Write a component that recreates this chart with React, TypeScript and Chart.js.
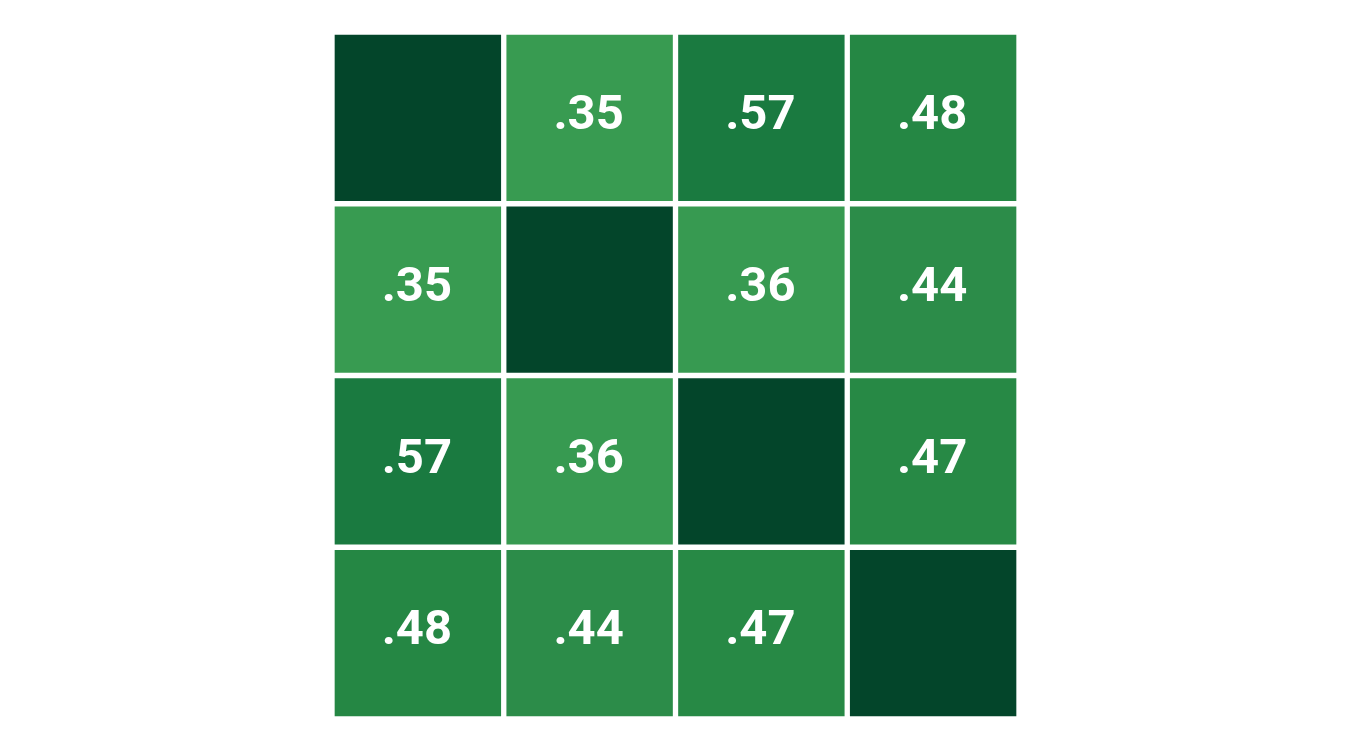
import React, { useEffect, useRef } from "react";
import { Chart, registerables } from "chart.js";

Chart.register(...registerables);

const columns = ["A", "B", "C", "D"];
const rows = ["A", "B", "C", "D"];
const values: number[][] = [
  [1.0, 0.35, 0.57, 0.48],
  [0.35, 1.0, 0.36, 0.44],
  [0.57, 0.36, 1.0, 0.47],
  [0.48, 0.44, 0.47, 1.0],
];
const palette: [number, string][] = [
  [1.0, "#03452a"],
  [0.57, "#1a7a40"],
  [0.48, "#258744"],
  [0.47, "#278945"],
  [0.44, "#2c8c49"],
  [0.36, "#379a51"],
  [0.35, "#389b51"],
];

function colorFor(v: number): string {
  let best = palette[0];
  for (const p of palette) if (Math.abs(p[0] - v) < Math.abs(best[0] - v)) best = p;
  return best[1];
}

function fmt(v: number): string {
  return v.toFixed(2).replace(/^0/, "");
}

const labelPlugin = {
  id: "cellLabels",
  afterDatasetsDraw(chart: any) {
    const ctx = chart.ctx;
    const xs = chart.scales.x;
    const ys = chart.scales.y;
    ctx.save();
    ctx.fillStyle = "#ffffff";
    ctx.font = "bold 49px Roboto";
    ctx.textAlign = "center";
    ctx.textBaseline = "middle";
    values.forEach((row, r) => {
      row.forEach((v, c) => {
        if (r === c) return;
        const x = xs.getPixelForValue(c) - 1;
        const y = ys.getPixelForValue(r + 0.5) - 1;
        ctx.fillText(fmt(v), x, y);
      });
    });
    ctx.restore();
  },
};

export default function App() {
  const ref = useRef<HTMLCanvasElement>(null);
  useEffect(() => {
    if (!ref.current) return;
    const datasets = rows.map((name, r) => ({
      label: name,
      data: columns.map(() => [r, r + 1] as [number, number]),
      backgroundColor: values[r].map(colorFor),
      borderColor: "#ffffff",
      borderWidth: 3,
      borderSkipped: false,
      grouped: false,
      barPercentage: 1,
      categoryPercentage: 1,
    }));
    const chart = new Chart(ref.current, {
      type: "bar",
      data: { labels: columns, datasets },
      options: {
        animation: false,
        responsive: false,
        maintainAspectRatio: false,
        layout: { padding: { left: 332, right: 331, top: 32, bottom: 31 } },
        plugins: { legend: { display: false }, tooltip: { enabled: false } },
        scales: {
          x: { display: false, offset: true },
          y: { display: false, min: 0, max: 4, reverse: true },
        },
      },
      plugins: [labelPlugin],
    });
    return () => chart.destroy();
  }, []);
  return (
    <div style={{ position: "absolute", left: 0, top: 0, width: 1350, height: 750, background: "#fff" }}>
      <canvas ref={ref} width={1350} height={750} style={{ width: 1350, height: 750 }} />
    </div>
  );
}
